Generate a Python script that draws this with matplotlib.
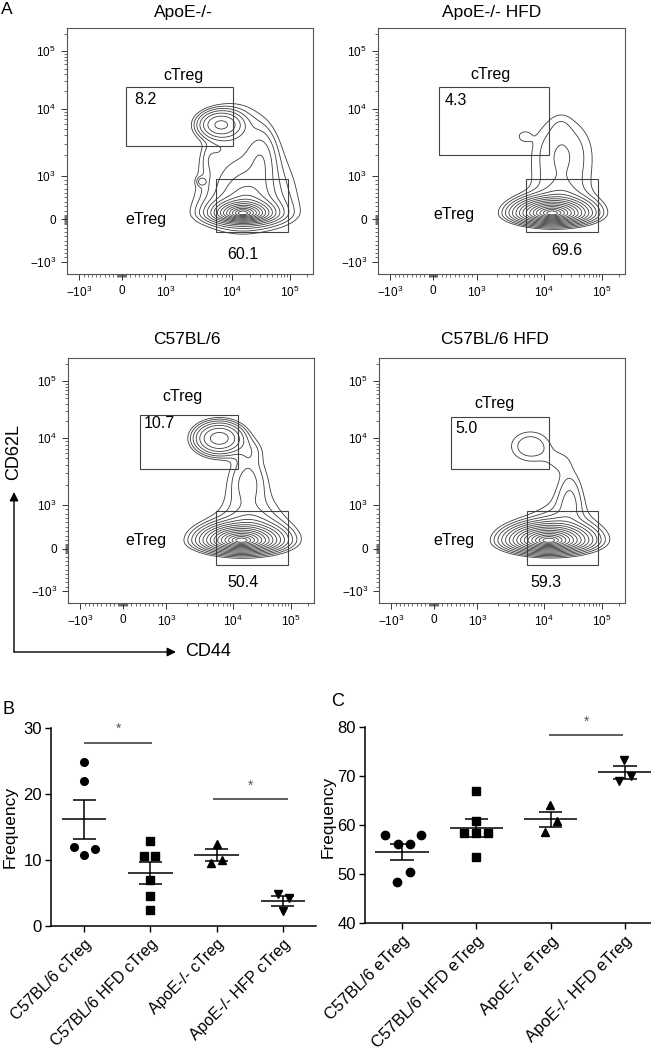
import numpy as np
import matplotlib
matplotlib.use('Agg')
import matplotlib.pyplot as plt
from matplotlib.patches import Rectangle

plt.rcParams['font.family'] = ['Liberation Sans', 'DejaVu Sans']
plt.rcParams['mathtext.fontset'] = 'custom'
plt.rcParams['mathtext.rm'] = 'Liberation Sans'
plt.rcParams['mathtext.it'] = 'Liberation Sans:italic'
plt.rcParams['mathtext.bf'] = 'Liberation Sans:bold'

# ---------------- data : panel A (flow plots) ----------------
flow_titles = ['ApoE-/-', 'ApoE-/- HFD', 'C57BL/6', 'C57BL/6 HFD']
ctreg_pct = ['8.2', '4.3', '10.7', '5.0']
etreg_pct = ['60.1', '69.6', '50.4', '59.3']
scale_values = [-1e3, 0, 1e3, 1e4, 1e5]
scale_labels = [r'$\mathregular{-10^{3}}$', '0', r'$\mathregular{10^{3}}$',
                r'$\mathregular{10^{4}}$', r'$\mathregular{10^{5}}$']

# population model (display-scale units) for each flow plot
# components: eTreg core, eTreg arches, cTreg, ridge, small blob, envelope, left link
apoe_cx = [0.715, 0.73, 0.625, 0.79, 0.546, 0.70, 0.58]
apoe_cy = [0.247, 0.26, 0.607, 0.47, 0.376, 0.45, 0.47]
apoe_sx = [0.026, 0.07, 0.07, 0.05, 0.016, 0.14, 0.03]
apoe_sy_up = [0.012, 0.10, 0.045, 0.10, 0.016, 0.25, 0.05]
apoe_sy_dn = [0.008, 0.03, 0.045, 0.10, 0.016, 0.25, 0.05]
apoe_amp = [1.0, 0.02, 0.015, 0.003, 0.0022, 0.0013, 0.0008]
apoe_pw = [1, 1, 2, 2, 2, 4, 2]

# components: eTreg core, arches, plume, plume tip, left lobe
apoehfd_cx = [0.705, 0.74, 0.745, 0.74, 0.59]
apoehfd_cy = [0.247, 0.27, 0.50, 0.60, 0.56]
apoehfd_sx = [0.031, 0.065, 0.12, 0.04, 0.03]
apoehfd_sy_up = [0.013, 0.08, 0.14, 0.05, 0.025]
apoehfd_sy_dn = [0.009, 0.03, 0.14, 0.05, 0.025]
apoehfd_amp = [1.0, 0.006, 0.0022, 0.0005, 0.001]
apoehfd_pw = [1, 1, 2, 2, 2]

# components: eTreg core, arches, cTreg, bridge, bridge-cTreg link
b6_cx = [0.705, 0.74, 0.615, 0.73, 0.74]
b6_cy = [0.255, 0.28, 0.672, 0.50, 0.62]
b6_sx = [0.033, 0.07, 0.075, 0.07, 0.05]
b6_sy_up = [0.014, 0.08, 0.05, 0.10, 0.05]
b6_sy_dn = [0.010, 0.03, 0.05, 0.10, 0.05]
b6_amp = [1.0, 0.008, 0.018, 0.0025, 0.0015]
b6_pw = [1, 1, 2, 2, 2]

# components: eTreg core, arches, cTreg, ridge, ridge-cTreg link
b6hfd_cx = [0.69, 0.74, 0.615, 0.775, 0.73]
b6hfd_cy = [0.255, 0.28, 0.64, 0.42, 0.58]
b6hfd_sx = [0.034, 0.07, 0.085, 0.05, 0.06]
b6hfd_sy_up = [0.014, 0.07, 0.065, 0.12, 0.05]
b6hfd_sy_dn = [0.010, 0.03, 0.065, 0.08, 0.05]
b6hfd_amp = [1.0, 0.006, 0.0022, 0.0022, 0.0009]
b6hfd_pw = [1, 1, 2, 2, 2]

# gates (x0, y0, x1, y1) in display-scale units
ctreg_gates = [[0.241, 0.522, 0.675, 0.76], [0.246, 0.484, 0.692, 0.76],
               [0.294, 0.545, 0.692, 0.769], [0.291, 0.545, 0.691, 0.76]]
etreg_gates = [[0.607, 0.172, 0.898, 0.387], [0.600, 0.172, 0.892, 0.387],
               [0.603, 0.156, 0.894, 0.374], [0.600, 0.156, 0.890, 0.374]]

# ---------------- data : panel B / C ----------------
b_categories = ['C57BL/6 cTreg', 'C57BL/6 HFD cTreg', 'ApoE-/- cTreg', 'ApoE-/- HFP cTreg']
b_values = [[24.8, 21.9, 11.9, 11.7, 10.7],
            [12.9, 10.6, 10.6, 7.0, 4.5, 2.4],
            [12.5, 10.0, 9.6],
            [4.8, 4.2, 2.3]]
c_categories = ['C57BL/6 eTreg', 'C57BL/6 HFD eTreg', 'ApoE-/- eTreg', 'ApoE-/- HFD eTreg']
c_values = [[58.0, 58.0, 56.1, 56.1, 50.4, 48.3],
            [67.0, 60.9, 58.4, 58.4, 58.4, 53.4],
            [64.0, 60.8, 58.6],
            [73.2, 70.0, 69.0]]
b_sig = [(0, 1.03, 27.8), (1.95, 3.07, 19.2)]
c_sig = [(1.98, 2.98, 78.3)]

# ---------------- layout ----------------
W, H = 651, 1050
fig = plt.figure(figsize=(W / 100, H / 100), dpi=100)

def px_axes(l, t, r, b):
    return fig.add_axes([l / W, 1 - b / H, (r - l) / W, (b - t) / H])

overlay = fig.add_axes([0, 0, 1, 1], zorder=-5)
overlay.set_xlim(0, W)
overlay.set_ylim(H, 0)
overlay.axis('off')

flow_boxes = [(67, 28, 313, 274), (378, 28, 625, 274), (68, 358, 314, 603), (379, 358, 625, 603)]
title_pos = [(183, 12), (492, 12), (187, 339), (495, 339)]
lab_ctreg = [(0.472, 0.806), (0.455, 0.81), (0.467, 0.841), (0.47, 0.814)]
lab_cpct = [(0.318, 0.711), (0.315, 0.706), (0.37, 0.733), (0.356, 0.712)]
lab_etreg = [(0.322, 0.22), (0.307, 0.24), (0.318, 0.255), (0.306, 0.255)]
lab_epct = [(0.713, 0.081), (0.766, 0.095), (0.711, 0.085), (0.679, 0.085)]

models = [(apoe_cx, apoe_cy, apoe_sx, apoe_sy_up, apoe_sy_dn, apoe_amp, apoe_pw),
          (apoehfd_cx, apoehfd_cy, apoehfd_sx, apoehfd_sy_up, apoehfd_sy_dn, apoehfd_amp, apoehfd_pw),
          (b6_cx, b6_cy, b6_sx, b6_sy_up, b6_sy_dn, b6_amp, b6_pw),
          (b6hfd_cx, b6hfd_cy, b6hfd_sx, b6hfd_sy_up, b6hfd_sy_dn, b6hfd_amp, b6hfd_pw)]

scale_pos = [0.05, 0.222, 0.40, 0.672, 0.905]

def to_pos(v):
    if v <= 1e3:
        return float(np.interp(v, scale_values[:3], scale_pos[:3]))
    lv = np.log10(v)
    dec = scale_pos[4] - scale_pos[3]
    if lv <= 5:
        return float(np.interp(lv, [3, 4, 5], scale_pos[2:]))
    return scale_pos[4] + (lv - 5) * dec

minor_vals = [v for v in range(-900, 1000, 100) if v != 0]
minor_vals += [m * 10 ** e for e in (3, 4) for m in range(2, 10)] + [2e5]
zero_vals = list(range(-80, 100, 20))
minor_pos = [to_pos(v) for v in minor_vals]
zero_pos = [to_pos(v) for v in zero_vals]

g = np.linspace(0, 1, 500)
X, Y = np.meshgrid(g, g)
levels = np.geomspace(1e-3, 0.5, 15)

for i, box in enumerate(flow_boxes):
    ax = px_axes(*box)
    cx, cy, sx, syu, syd, amp, pw = models[i]
    Z = np.zeros_like(X)
    for k in range(len(cx)):
        sy = np.where(Y > cy[k], syu[k], syd[k])
        q2 = ((X - cx[k]) / sx[k]) ** 2 + ((Y - cy[k]) / sy) ** 2
        Z += amp[k] * np.exp(-q2 ** (pw[k] / 2))
    ax.contour(X, Y, Z, levels=levels, colors='#3a3a3a', linewidths=0.6)
    for gate in (ctreg_gates[i], etreg_gates[i]):
        ax.add_patch(Rectangle((gate[0], gate[1]), gate[2] - gate[0], gate[3] - gate[1],
                               fill=False, ec='#444444', lw=0.8))
    ax.set_xlim(0, 1)
    ax.set_ylim(0, 1)
    for axis in (ax.xaxis, ax.yaxis):
        axis.set_ticks([to_pos(v) for v in scale_values])
        axis.set_ticklabels(scale_labels)
        axis.set_ticks(minor_pos + zero_pos, minor=True)
    ax.tick_params(which='major', direction='out', length=4, width=0.7, labelsize=8.5, pad=4, color='#333333')
    ax.tick_params(which='minor', direction='out', length=2.2, width=0.5, color='#333333')
    for sp in ax.spines.values():
        sp.set_linewidth(0.8)
        sp.set_color('#555555')
    ax.text(*lab_ctreg[i], 'cTreg', fontsize=11.5, ha='center', va='center')
    ax.text(*lab_cpct[i], ctreg_pct[i], fontsize=11.5, ha='center', va='center')
    ax.text(*lab_etreg[i], 'eTreg', fontsize=11.5, ha='center', va='center')
    ax.text(*lab_epct[i], etreg_pct[i], fontsize=11.5, ha='center', va='center')
    overlay.text(*title_pos[i], flow_titles[i], fontsize=12.5, ha='center', va='center')

overlay.text(7, 10, 'A', fontsize=12.5, ha='center', va='center')
overlay.text(9, 710, 'B', fontsize=13, ha='center', va='center')
overlay.text(338, 702, 'C', fontsize=13, ha='center', va='center')

arrow_kw = dict(arrowstyle='-|>', lw=1.0, color='black', mutation_scale=13, shrinkA=0, shrinkB=0)
overlay.annotate('', xy=(14, 492), xytext=(14, 652), arrowprops=arrow_kw)
overlay.annotate('', xy=(176, 652), xytext=(14, 652), arrowprops=arrow_kw)
overlay.text(14, 452, 'CD62L', fontsize=13, rotation=90, ha='center', va='center')
overlay.text(185, 652, 'CD44', fontsize=13, ha='left', va='center')

# ---------------- dot plots ----------------
markers = ['o', 's', '^', 'v']
b_jitter = [[0, 0, -0.156, 0.16, 0], [0, -0.1, 0.075, 0, 0, 0], [0, 0.08, -0.08], [-0.07, 0.09, 0]]
c_jitter = [[-0.224, 0.256, -0.058, 0.103, 0.103, -0.067], [0, 0, -0.166, 0, 0.157, 0],
            [-0.01, 0.08, -0.075], [-0.013, 0.076, -0.08]]

def dot_panel(ax, cats, vals, jit, ylim, yticks, sigs, msizes, mean_hw, cap_hw, lab_fs, ylab_xy):
    for i, v in enumerate(vals):
        v = np.array(v)
        ax.plot(i + np.array(jit[i]), v, ls='none', marker=markers[i], ms=msizes[i],
                color='black', mec='black', zorder=3)
        m = v.mean()
        se = v.std(ddof=1) / np.sqrt(len(v))
        ax.hlines(m, i - mean_hw, i + mean_hw, color='black', lw=1.1, zorder=4)
        ax.hlines([m - se, m + se], i - cap_hw, i + cap_hw, color='black', lw=1.1, zorder=4)
        ax.vlines(i, m - se, m + se, color='black', lw=1.1, zorder=4)
    for x0, x1, y in sigs:
        ax.hlines(y, x0, x1, color='#333333', lw=1.1)
        ax.text((x0 + x1) / 2, y + (ylim[1] - ylim[0]) * 0.035, '*', fontsize=10,
                color='#555555', ha='center', va='bottom')
    ax.set_xlim(-0.5, 3.5)
    ax.set_ylim(*ylim)
    ax.set_yticks(yticks)
    ax.set_xticks(range(len(cats)))
    ax.set_xticklabels(cats, rotation=45, ha='right', rotation_mode='anchor', fontsize=lab_fs)
    ax.tick_params(axis='y', direction='out', length=4.5, width=1, labelsize=12, pad=2)
    ax.tick_params(axis='x', direction='out', length=4.5, width=1, pad=3)
    for s in ('top', 'right'):
        ax.spines[s].set_visible(False)
    for s in ('left', 'bottom'):
        ax.spines[s].set_linewidth(1.1)
    ax.set_ylabel('Frequency', fontsize=12.5)
    ax.yaxis.set_label_coords(*ylab_xy)
    ax.patch.set_alpha(0)

axB = px_axes(51, 728, 316, 926)
dot_panel(axB, b_categories, b_values, b_jitter, (0, 30), [0, 10, 20, 30], b_sig,
          [5.5, 5.2, 6, 6], 0.335, 0.175, 11.5, (-0.125, 0.5))
axC = px_axes(365, 727, 662, 923)
dot_panel(axC, c_categories, c_values, c_jitter, (40, 80), [40, 50, 60, 70, 80], c_sig,
          [6, 5.5, 6.2, 6.2], 0.36, 0.157, 12, (-0.10, 0.54))

fig.savefig('out.png', dpi=100)
